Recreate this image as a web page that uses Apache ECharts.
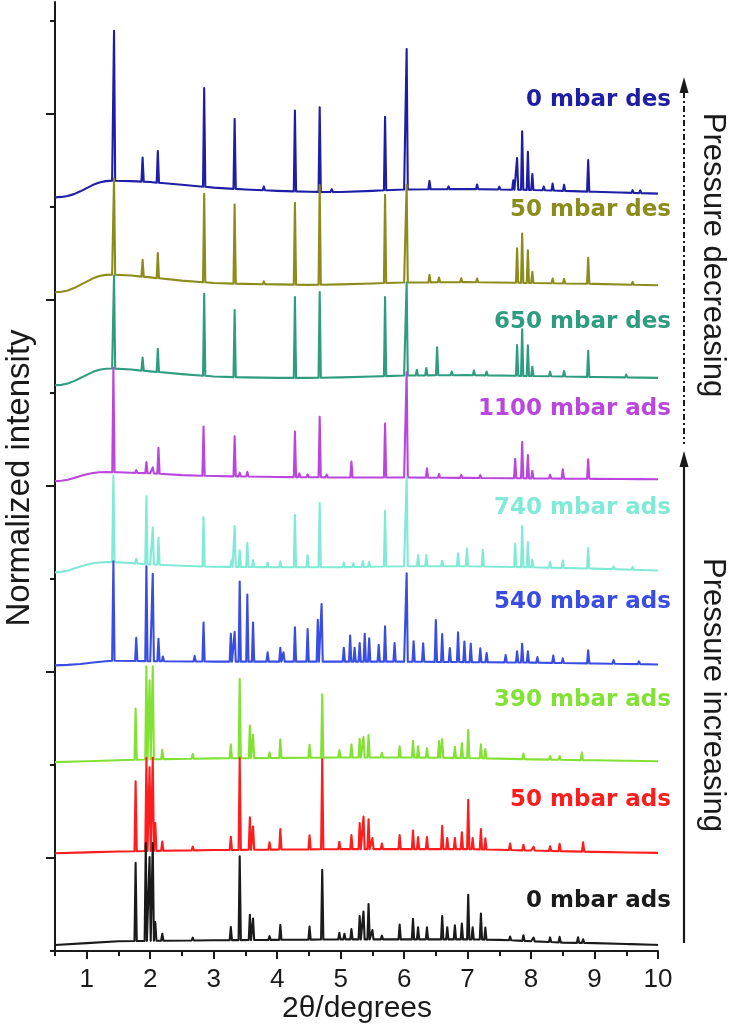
<!DOCTYPE html>
<html><head><meta charset="utf-8">
<script src="https://cdn.jsdelivr.net/npm/echarts@6/dist/echarts.min.js"></script>
<style>html,body{margin:0;padding:0;background:#fff}#c{width:734px;height:1026px}</style>
</head><body><div id="c"></div>
<script>
// ---- Data (x = 2θ in degrees, y = normalized intensity in axis units) ----
const labels = ['0 mbar des','50 mbar des','650 mbar des','1100 mbar ads','740 mbar ads','540 mbar ads','390 mbar ads','50 mbar ads','0 mbar ads'];
const offsets = [8.10, 7.08, 6.08, 5.05, 4.07, 3.07, 2.03, 1.05, 0.065];
const xTickValues = [1,2,3,4,5,6,7,8,9,10];
const xMinorValues = [0.5,1.5,2.5,3.5,4.5,5.5,6.5,7.5,8.5,9.5];
const yMajorValues = [1,3,5,7,9];
const yMinorValues = [0,2,4,6,8,10];

// baselines (relative to offset)
const base_0des = [[0.5,0],[0.6,0.005],[0.7,0.015],[0.8,0.035],[0.9,0.065],[1.0,0.1],[1.1,0.135],[1.2,0.16],[1.3,0.175],[1.4,0.18],[1.7,0.175],[2,0.165],[2.5,0.135],[3,0.105],[3.5,0.085],[4,0.07],[4.5,0.06],[5,0.058],[5.5,0.07],[6,0.085],[7,0.09],[8,0.08],[9,0.06],[10,0.04]];
const base_50des = [[0.5,0],[0.6,0.005],[0.7,0.02],[0.8,0.045],[0.9,0.08],[1.0,0.115],[1.1,0.15],[1.2,0.175],[1.3,0.187],[1.4,0.19],[1.7,0.18],[2,0.16],[2.5,0.125],[3,0.1],[3.5,0.09],[4,0.085],[4.5,0.08],[5,0.085],[5.5,0.095],[6,0.105],[7,0.11],[8,0.1],[9,0.09],[10,0.075]];
const base_650des = [[0.5,0],[0.6,0.005],[0.7,0.02],[0.8,0.045],[0.9,0.078],[1.0,0.112],[1.1,0.145],[1.2,0.167],[1.3,0.178],[1.4,0.18],[1.7,0.17],[2,0.15],[2.5,0.12],[3,0.095],[3.5,0.085],[4,0.08],[4.5,0.08],[5,0.085],[5.5,0.095],[6,0.105],[7,0.11],[8,0.1],[9,0.09],[10,0.08]];
const base_1100ads = [[0.5,0],[0.6,0.005],[0.7,0.015],[0.8,0.035],[0.9,0.055],[1.0,0.075],[1.1,0.088],[1.2,0.095],[1.3,0.098],[1.5,0.095],[1.7,0.09],[2,0.085],[2.5,0.065],[3,0.055],[4,0.045],[5,0.04],[6,0.04],[7,0.035],[8,0.03],[9,0.025],[10,0.02]];
const base_740ads = [[0.5,0],[0.6,0.005],[0.7,0.018],[0.8,0.04],[0.9,0.062],[1.0,0.082],[1.1,0.097],[1.2,0.106],[1.3,0.11],[1.4,0.11],[1.7,0.1],[2,0.085],[2.5,0.07],[3,0.06],[4,0.055],[5,0.055],[6,0.065],[7,0.065],[8,0.055],[9,0.04],[10,0.02]];
const base_540ads = [[0.5,0],[0.7,0.005],[0.9,0.015],[1.1,0.03],[1.3,0.045],[1.4,0.05],[2,0.045],[3,0.04],[4,0.04],[5,0.04],[6,0.04],[7,0.035],[8,0.03],[9,0.02],[10,0.01]];
const base_390ads = [[0.5,0],[1,0.01],[1.5,0.02],[2,0.03],[3,0.04],[4,0.045],[5,0.05],[6,0.05],[7,0.045],[8,0.03],[9,0.02],[10,0.01]];
const base_50ads = [[0.5,0],[1,0.01],[1.5,0.02],[2,0.025],[3,0.035],[4,0.04],[5,0.045],[6,0.045],[7,0.045],[8,0.03],[9,0.015],[10,0.005]];
const base_0ads = [[0.5,0],[1.0,0.02],[1.5,0.04],[2.0,0.045],[3,0.05],[4,0.055],[5,0.06],[6,0.06],[7,0.06],[7.5,0.055],[8,0.04],[8.5,0.025],[9,0.02],[9.5,0.01],[10,0]];

// peaks: [2θ, height above local baseline]
const peaks_0des = [[1.43,1.61],[1.88,0.26],[2.12,0.34],[2.85,1.06],[3.33,0.75],[3.79,0.04],[4.28,0.87],[4.67,0.91],[4.86,0.03],[5.70,0.79],[6.04,1.51],[6.40,0.09],[6.7,0.03],[7.15,0.05],[7.50,0.03],[7.72,0.1],[7.78,0.34],[7.86,0.63],[7.95,0.41],[8.02,0.17],[8.2,0.04],[8.34,0.075],[8.52,0.065],[8.90,0.34],[9.4,0.02],[9.6,0.03],[9.72,0.03]];
const peaks_50des = [[1.43,1.03],[1.88,0.18],[2.12,0.27],[2.85,0.95],[3.33,0.85],[3.79,0.03],[4.28,0.88],[4.67,1.07],[5.70,0.95],[6.04,1.05],[6.40,0.08],[6.55,0.05],[6.9,0.04],[7.15,0.04],[7.78,0.37],[7.86,0.53],[7.95,0.35],[8.02,0.12],[8.34,0.05],[8.52,0.05],[8.90,0.28],[9.6,0.03]];
const peaks_650des = [[1.43,1.0],[1.88,0.14],[2.12,0.25],[2.85,0.88],[3.33,0.72],[4.28,0.87],[4.67,0.92],[5.70,0.85],[6.04,1.0],[6.2,0.06],[6.35,0.08],[6.52,0.3],[6.75,0.04],[7.1,0.05],[7.3,0.04],[7.78,0.33],[7.86,0.5],[7.95,0.33],[8.02,0.1],[8.3,0.05],[8.52,0.06],[8.90,0.28],[9.5,0.03]];
const peaks_1100ads = [[1.42,1.12],[1.78,0.03],[1.94,0.12],[2.04,0.065],[2.13,0.28],[2.84,0.53],[3.33,0.43],[3.41,0.04],[3.53,0.05],[3.75,0.02],[4.28,0.49],[4.35,0.04],[4.48,0.03],[4.67,0.65],[4.78,0.03],[5.17,0.17],[5.3,0.02],[5.70,0.58],[6.04,1.13],[6.36,0.1],[6.55,0.04],[6.9,0.03],[7.2,0.03],[7.75,0.21],[7.86,0.39],[7.95,0.25],[8.02,0.08],[8.3,0.04],[8.5,0.1],[8.90,0.21],[9.4,0.02],[9.7,0.02]];
const peaks_740ads = [[1.42,0.93],[1.78,0.05],[1.94,0.73],[2.04,0.40],[2.13,0.29],[2.84,0.53],[3.28,0.07],[3.33,0.44],[3.41,0.18],[3.53,0.26],[3.62,0.075],[3.85,0.05],[4.05,0.06],[4.28,0.56],[4.48,0.13],[4.67,0.69],[5.05,0.05],[5.2,0.04],[5.35,0.06],[5.45,0.05],[5.70,0.6],[6.04,0.96],[6.22,0.12],[6.35,0.12],[6.6,0.06],[6.85,0.14],[6.99,0.19],[7.24,0.18],[7.75,0.25],[7.86,0.44],[7.95,0.27],[8.02,0.08],[8.3,0.06],[8.5,0.08],[8.90,0.22],[9.3,0.03],[9.6,0.03]];
const peaks_540ads = [[1.42,1.07],[1.78,0.25],[1.94,1.02],[2.04,0.94],[2.13,0.24],[2.2,0.05],[2.7,0.06],[2.84,0.42],[3.27,0.3],[3.33,0.32],[3.41,0.86],[3.53,0.72],[3.62,0.42],[3.85,0.1],[4.05,0.15],[4.1,0.1],[4.28,0.37],[4.48,0.35],[4.64,0.45],[4.70,0.62],[5.05,0.15],[5.15,0.28],[5.22,0.15],[5.3,0.2],[5.38,0.3],[5.45,0.25],[5.6,0.18],[5.70,0.38],[5.85,0.2],[6.04,0.95],[6.15,0.22],[6.3,0.2],[6.5,0.45],[6.6,0.3],[6.72,0.15],[6.85,0.32],[6.95,0.22],[7.05,0.2],[7.2,0.15],[7.3,0.1],[7.6,0.08],[7.78,0.12],[7.86,0.2],[7.95,0.12],[8.1,0.06],[8.35,0.08],[8.5,0.05],[8.9,0.14],[9.3,0.04],[9.7,0.03]];
const peaks_390ads = [[1.77,0.55],[1.94,1.0],[1.99,0.85],[2.04,1.0],[2.19,0.1],[2.67,0.05],[3.27,0.15],[3.41,0.85],[3.57,0.35],[3.62,0.25],[3.88,0.06],[4.05,0.2],[4.51,0.14],[4.71,0.68],[4.98,0.08],[5.17,0.14],[5.3,0.2],[5.36,0.22],[5.44,0.24],[5.65,0.05],[5.93,0.12],[6.14,0.18],[6.22,0.12],[6.36,0.1],[6.55,0.18],[6.6,0.2],[6.8,0.12],[6.91,0.16],[7.01,0.3],[7.21,0.15],[7.28,0.1],[7.88,0.06],[8.3,0.04],[8.45,0.04],[8.8,0.08],[9.5,0.02]];
const peaks_50ads = [[1.77,0.75],[1.94,1.0],[1.99,0.9],[2.04,1.0],[2.08,0.3],[2.19,0.1],[2.67,0.04],[3.27,0.14],[3.41,0.99],[3.57,0.35],[3.62,0.25],[3.88,0.08],[4.05,0.22],[4.51,0.15],[4.71,0.97],[4.98,0.08],[5.17,0.15],[5.3,0.28],[5.36,0.35],[5.44,0.32],[5.5,0.12],[5.65,0.06],[5.93,0.15],[6.14,0.2],[6.22,0.13],[6.36,0.13],[6.6,0.25],[6.68,0.12],[6.8,0.12],[6.91,0.18],[7.01,0.53],[7.08,0.12],[7.21,0.22],[7.28,0.12],[7.67,0.07],[7.88,0.06],[8.04,0.04],[8.3,0.05],[8.45,0.08],[8.82,0.1],[9.56,0.02]];
const peaks_0ads = [[1.77,0.84],[1.93,1.05],[1.99,0.9],[2.04,1.05],[2.08,0.2],[2.19,0.075],[2.67,0.03],[3.27,0.14],[3.41,0.9],[3.57,0.27],[3.62,0.23],[3.88,0.04],[4.05,0.16],[4.51,0.14],[4.71,0.75],[4.98,0.07],[5.06,0.06],[5.17,0.11],[5.3,0.25],[5.36,0.3],[5.44,0.38],[5.5,0.1],[5.65,0.04],[5.93,0.16],[6.14,0.22],[6.22,0.13],[6.36,0.13],[6.6,0.25],[6.68,0.13],[6.8,0.15],[6.91,0.17],[7.01,0.48],[7.08,0.13],[7.21,0.28],[7.28,0.13],[7.67,0.04],[7.88,0.06],[8.04,0.04],[8.3,0.05],[8.45,0.06],[8.74,0.06],[8.82,0.04],[9.56,0.02],[9.93,0.02]];

const baselines = [base_0des, base_50des, base_650des, base_1100ads, base_740ads, base_540ads, base_390ads, base_50ads, base_0ads];
const peakLists = [peaks_0des, peaks_50des, peaks_650des, peaks_1100ads, peaks_740ads, peaks_540ads, peaks_390ads, peaks_50ads, peaks_0ads];

// ---- Styles ----
const lineColors = ['#1d1da6','#8c8c1c','#2e9c7e','#bb46de','#80ead6','#3a4de2','#82e234','#ff1c1c','#1a1a1a'];
const labelY = [100, 210, 322, 409, 508, 602, 700, 800, 901];

function baseAt(base, x){
  for (let i=0;i<base.length-1;i++){
    const [x0,y0]=base[i],[x1,y1]=base[i+1];
    if (x>=x0 && x<=x1) return y0+(y1-y0)*(x-x0)/(x1-x0);
  }
  return base[base.length-1][1];
}
function buildLine(offset, base, peaks){
  const w=0.018, pts=[];
  base.forEach(([x,b])=>{ if(!peaks.some(p=>Math.abs(p[0]-x)<=w+0.002)) pts.push([x, offset+b]); });
  peaks.forEach(([x,h])=>{
    const b=baseAt(base,x);
    pts.push([x-w, offset+b],[x, offset+b+h],[x+w, offset+b]);
  });
  pts.sort((a,b)=>a[0]-b[0]);
  return pts;
}

const chart = echarts.init(document.getElementById('c'), null, {renderer:'canvas'});
const tickFont = "'Liberation Sans Narrow','Liberation Sans',Arial,sans-serif";
const series = labels.map((name,i)=>({
  name, type:'line', xAxisIndex:0, yAxisIndex:0, symbol:'none', silent:true,
  lineStyle:{color:lineColors[i], width:2.1, join:'round'},
  data: buildLine(offsets[i], baselines[i], peakLists[i]),
  z: 2 + i
}));

const graphics = labels.map((t,i)=>({
  type:'text', x:671, y:labelY[i], z:100,
  style:{text:t, fill:lineColors[i], font:"bold 23px 'DejaVu Sans', sans-serif", align:'right', verticalAlign:'middle'}
}));
graphics.push(
  {type:'line', shape:{x1:684,y1:92,x2:684,y2:444}, style:{stroke:'#1a1a1a', lineWidth:2, lineDash:[6,3,2,3]}},
  {type:'polygon', shape:{points:[[684,77],[679.5,93],[688.5,93]]}, style:{fill:'#1a1a1a'}},
  {type:'line', shape:{x1:684,y1:466,x2:684,y2:943}, style:{stroke:'#1a1a1a', lineWidth:2.2}},
  {type:'polygon', shape:{points:[[684,451],[679.5,467],[688.5,467]]}, style:{fill:'#1a1a1a'}},
  {type:'text', x:713, y:255, rotation:-Math.PI/2, style:{text:'Pressure decreasing', fill:'#1a1a1a', font:"31px 'Liberation Sans', Arial, sans-serif", align:'center', verticalAlign:'middle'}},
  {type:'text', x:713, y:695, rotation:-Math.PI/2, style:{text:'Pressure increasing', fill:'#1a1a1a', font:"31px 'Liberation Sans', Arial, sans-serif", align:'center', verticalAlign:'middle'}},
  {type:'text', x:20, y:478, rotation:Math.PI/2, style:{text:'Normalized intensity', fill:'#1a1a1a', font:"33px 'Liberation Sans', Arial, sans-serif", align:'center', verticalAlign:'middle'}},
  {type:'text', x:357, y:1009, style:{text:'2θ/degrees', fill:'#1a1a1a', font:"30px 'Liberation Sans', Arial, sans-serif", align:'center', verticalAlign:'middle'}}
);

chart.setOption({
  animation:false,
  backgroundColor:'#ffffff',
  grid:{left:55, right:76, top:2, bottom:75},
  xAxis:[
    {type:'value', min:0.5, max:10, position:'bottom',
     axisLine:{show:true, lineStyle:{color:'#1a1a1a', width:2}},
     axisTick:{show:true, customValues:xTickValues, length:8, inside:false, lineStyle:{color:'#1a1a1a', width:2}},
     axisLabel:{show:true, customValues:xTickValues, margin:16, color:'#1a1a1a', fontSize:26, fontFamily:tickFont},
     splitLine:{show:false}},
    {type:'value', min:0.5, max:10, position:'bottom',
     axisLine:{show:false},
     axisTick:{show:true, customValues:xMinorValues, length:5, inside:false, lineStyle:{color:'#1a1a1a', width:2}},
     axisLabel:{show:false}, splitLine:{show:false}}
  ],
  yAxis:[
    {type:'value', min:0, max:10.2, position:'left',
     axisLine:{show:true, lineStyle:{color:'#1a1a1a', width:2}},
     axisTick:{show:true, customValues:yMinorValues, length:5, inside:false, lineStyle:{color:'#1a1a1a', width:2}},
     axisLabel:{show:false}, splitLine:{show:false}},
    {type:'value', min:0, max:10.2, position:'left',
     axisLine:{show:false},
     axisTick:{show:true, customValues:yMajorValues, length:9, inside:false, lineStyle:{color:'#1a1a1a', width:2}},
     axisLabel:{show:false}, splitLine:{show:false}}
  ],
  series,
  graphic: graphics
});
</script>
</body></html>
